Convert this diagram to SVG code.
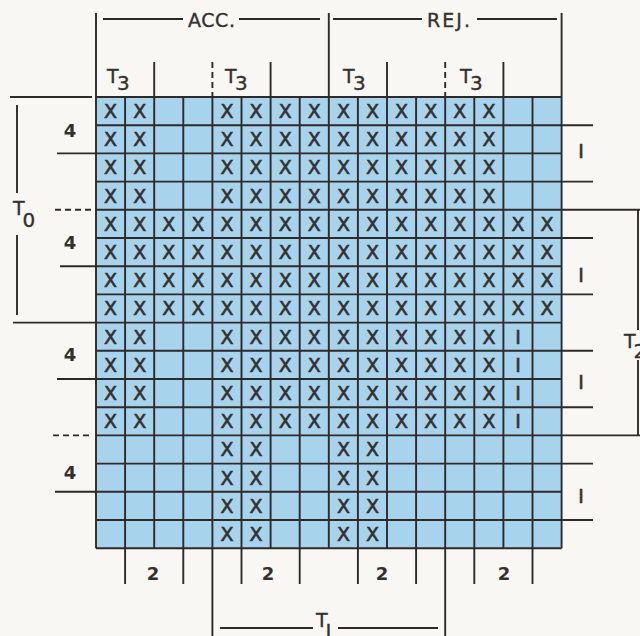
<svg xmlns="http://www.w3.org/2000/svg" width="640" height="636" viewBox="0 0 640 636">
<style>
.ln{stroke:#2e2a28;stroke-width:1.9;fill:none}
.dash{stroke-dasharray:6 4}
.x{font-family:"DejaVu Sans",sans-serif;font-size:19px;fill:#35302e;text-anchor:middle;stroke:#35302e;stroke-width:0.6}
.lb{font-family:"DejaVu Sans",sans-serif;font-size:18px;fill:#35302e;text-anchor:middle;font-weight:bold}
.hd{font-family:"DejaVu Sans",sans-serif;font-size:19px;fill:#35302e;stroke:#35302e;stroke-width:0.35}
.t{font-family:"DejaVu Sans",sans-serif;font-size:19px;fill:#35302e;stroke:#35302e;stroke-width:0.35}
.sub{font-size:20px}
</style>
<rect width="640" height="636" fill="#f8f7f3"/>
<g id="grid">
<rect x="96" y="97" width="465.6" height="451.2" fill="#a8d3ed"/>
<path class="ln" d="M96 97V548.2M125.1 97V548.2M154.2 97V548.2M183.3 97V548.2M212.4 97V548.2M241.5 97V548.2M270.6 97V548.2M299.7 97V548.2M328.8 97V548.2M357.9 97V548.2M387 97V548.2M416.1 97V548.2M445.2 97V548.2M474.3 97V548.2M503.4 97V548.2M532.5 97V548.2M561.6 97V548.2M96 97H561.6M96 125.2H561.6M96 153.4H561.6M96 181.6H561.6M96 209.8H561.6M96 238H561.6M96 266.2H561.6M96 294.4H561.6M96 322.6H561.6M96 350.8H561.6M96 379H561.6M96 407.2H561.6M96 435.4H561.6M96 463.6H561.6M96 491.8H561.6M96 520H561.6M96 548.2H561.6"/>
</g>
<g id="marks">
<g transform="translate(0,118)"><text class="x" x="110.6">X</text><text class="x" x="139.7">X</text><text class="x" x="227">X</text><text class="x" x="256.1">X</text><text class="x" x="285.2">X</text><text class="x" x="314.3">X</text><text class="x" x="343.4">X</text><text class="x" x="372.5">X</text><text class="x" x="401.6">X</text><text class="x" x="430.7">X</text><text class="x" x="459.8">X</text><text class="x" x="488.9">X</text></g>
<g transform="translate(0,146.2)"><text class="x" x="110.6">X</text><text class="x" x="139.7">X</text><text class="x" x="227">X</text><text class="x" x="256.1">X</text><text class="x" x="285.2">X</text><text class="x" x="314.3">X</text><text class="x" x="343.4">X</text><text class="x" x="372.5">X</text><text class="x" x="401.6">X</text><text class="x" x="430.7">X</text><text class="x" x="459.8">X</text><text class="x" x="488.9">X</text></g>
<g transform="translate(0,174.4)"><text class="x" x="110.6">X</text><text class="x" x="139.7">X</text><text class="x" x="227">X</text><text class="x" x="256.1">X</text><text class="x" x="285.2">X</text><text class="x" x="314.3">X</text><text class="x" x="343.4">X</text><text class="x" x="372.5">X</text><text class="x" x="401.6">X</text><text class="x" x="430.7">X</text><text class="x" x="459.8">X</text><text class="x" x="488.9">X</text></g>
<g transform="translate(0,202.6)"><text class="x" x="110.6">X</text><text class="x" x="139.7">X</text><text class="x" x="227">X</text><text class="x" x="256.1">X</text><text class="x" x="285.2">X</text><text class="x" x="314.3">X</text><text class="x" x="343.4">X</text><text class="x" x="372.5">X</text><text class="x" x="401.6">X</text><text class="x" x="430.7">X</text><text class="x" x="459.8">X</text><text class="x" x="488.9">X</text></g>
<g transform="translate(0,230.8)"><text class="x" x="110.6">X</text><text class="x" x="139.7">X</text><text class="x" x="168.8">X</text><text class="x" x="197.9">X</text><text class="x" x="227">X</text><text class="x" x="256.1">X</text><text class="x" x="285.2">X</text><text class="x" x="314.3">X</text><text class="x" x="343.4">X</text><text class="x" x="372.5">X</text><text class="x" x="401.6">X</text><text class="x" x="430.7">X</text><text class="x" x="459.8">X</text><text class="x" x="488.9">X</text><text class="x" x="518">X</text><text class="x" x="547.1">X</text></g>
<g transform="translate(0,259)"><text class="x" x="110.6">X</text><text class="x" x="139.7">X</text><text class="x" x="168.8">X</text><text class="x" x="197.9">X</text><text class="x" x="227">X</text><text class="x" x="256.1">X</text><text class="x" x="285.2">X</text><text class="x" x="314.3">X</text><text class="x" x="343.4">X</text><text class="x" x="372.5">X</text><text class="x" x="401.6">X</text><text class="x" x="430.7">X</text><text class="x" x="459.8">X</text><text class="x" x="488.9">X</text><text class="x" x="518">X</text><text class="x" x="547.1">X</text></g>
<g transform="translate(0,287.2)"><text class="x" x="110.6">X</text><text class="x" x="139.7">X</text><text class="x" x="168.8">X</text><text class="x" x="197.9">X</text><text class="x" x="227">X</text><text class="x" x="256.1">X</text><text class="x" x="285.2">X</text><text class="x" x="314.3">X</text><text class="x" x="343.4">X</text><text class="x" x="372.5">X</text><text class="x" x="401.6">X</text><text class="x" x="430.7">X</text><text class="x" x="459.8">X</text><text class="x" x="488.9">X</text><text class="x" x="518">X</text><text class="x" x="547.1">X</text></g>
<g transform="translate(0,315.4)"><text class="x" x="110.6">X</text><text class="x" x="139.7">X</text><text class="x" x="168.8">X</text><text class="x" x="197.9">X</text><text class="x" x="227">X</text><text class="x" x="256.1">X</text><text class="x" x="285.2">X</text><text class="x" x="314.3">X</text><text class="x" x="343.4">X</text><text class="x" x="372.5">X</text><text class="x" x="401.6">X</text><text class="x" x="430.7">X</text><text class="x" x="459.8">X</text><text class="x" x="488.9">X</text><text class="x" x="518">X</text><text class="x" x="547.1">X</text></g>
<g transform="translate(0,343.6)"><text class="x" x="110.6">X</text><text class="x" x="139.7">X</text><text class="x" x="227">X</text><text class="x" x="256.1">X</text><text class="x" x="285.2">X</text><text class="x" x="314.3">X</text><text class="x" x="343.4">X</text><text class="x" x="372.5">X</text><text class="x" x="401.6">X</text><text class="x" x="430.7">X</text><text class="x" x="459.8">X</text><text class="x" x="488.9">X</text><text class="x" x="518">I</text></g>
<g transform="translate(0,371.8)"><text class="x" x="110.6">X</text><text class="x" x="139.7">X</text><text class="x" x="227">X</text><text class="x" x="256.1">X</text><text class="x" x="285.2">X</text><text class="x" x="314.3">X</text><text class="x" x="343.4">X</text><text class="x" x="372.5">X</text><text class="x" x="401.6">X</text><text class="x" x="430.7">X</text><text class="x" x="459.8">X</text><text class="x" x="488.9">X</text><text class="x" x="518">I</text></g>
<g transform="translate(0,400)"><text class="x" x="110.6">X</text><text class="x" x="139.7">X</text><text class="x" x="227">X</text><text class="x" x="256.1">X</text><text class="x" x="285.2">X</text><text class="x" x="314.3">X</text><text class="x" x="343.4">X</text><text class="x" x="372.5">X</text><text class="x" x="401.6">X</text><text class="x" x="430.7">X</text><text class="x" x="459.8">X</text><text class="x" x="488.9">X</text><text class="x" x="518">I</text></g>
<g transform="translate(0,428.2)"><text class="x" x="110.6">X</text><text class="x" x="139.7">X</text><text class="x" x="227">X</text><text class="x" x="256.1">X</text><text class="x" x="285.2">X</text><text class="x" x="314.3">X</text><text class="x" x="343.4">X</text><text class="x" x="372.5">X</text><text class="x" x="401.6">X</text><text class="x" x="430.7">X</text><text class="x" x="459.8">X</text><text class="x" x="488.9">X</text><text class="x" x="518">I</text></g>
<g transform="translate(0,456.4)"><text class="x" x="227">X</text><text class="x" x="256.1">X</text><text class="x" x="343.4">X</text><text class="x" x="372.5">X</text></g>
<g transform="translate(0,484.6)"><text class="x" x="227">X</text><text class="x" x="256.1">X</text><text class="x" x="343.4">X</text><text class="x" x="372.5">X</text></g>
<g transform="translate(0,512.8)"><text class="x" x="227">X</text><text class="x" x="256.1">X</text><text class="x" x="343.4">X</text><text class="x" x="372.5">X</text></g>
<g transform="translate(0,541)"><text class="x" x="227">X</text><text class="x" x="256.1">X</text><text class="x" x="343.4">X</text><text class="x" x="372.5">X</text></g>
</g>
<g id="connectors">
<path class="ln" d="M96 13V97M328.8 13V97M561.6 13V97M103 19H183M239 19H320M333 19H422M477 19H557M154.2 62V97M270.6 62V97M387 62V97M503.4 62V97"/>
<path class="ln dash" d="M212.4 62V97M445.2 62V97"/>
<path class="ln" d="M10 97H92M17 105V193M17 235V315M57 153.4H96M60 266.2H96M13 322.6H96M57 379H96M55 491.8H96"/>
<path class="ln dash" d="M55 209.8H92M53 435.4H92"/>
<path class="ln" d="M561.6 125.2H593M561.6 181.6H593M561.6 238H593M561.6 294.4H593M561.6 350.8H593M561.6 407.2H593M561.6 463.6H593M561.6 520H593M561.6 209.8H640M561.6 435.4H640M638 209.8V330M638 360V435.4"/>
<path class="ln" d="M125.1 548.2V584M183.3 548.2V584M241.5 548.2V584M299.7 548.2V584M357.9 548.2V584M416.1 548.2V584M474.3 548.2V584M532.5 548.2V584M212.4 548.2V636M445.2 548.2V636M220 628H313M338 628H438"/>
</g>
<g id="labels">
<text class="hd" x="188" y="27" textLength="47" lengthAdjust="spacing">ACC.</text>
<text class="hd" x="427" y="27" textLength="43" lengthAdjust="spacing">REJ.</text>
<text class="t" x="107" y="83">T<tspan class="sub" dx="-1.5" dy="7">3</tspan></text>
<text class="t" x="225" y="83">T<tspan class="sub" dx="-1.5" dy="7">3</tspan></text>
<text class="t" x="343" y="83">T<tspan class="sub" dx="-1.5" dy="7">3</tspan></text>
<text class="t" x="460" y="83">T<tspan class="sub" dx="-1.5" dy="7">3</tspan></text>
<text class="t" x="13" y="215">T<tspan class="sub" dx="-2" dy="12">0</tspan></text>
<text class="t" x="624" y="348">T<tspan class="sub" dx="-2" dy="10">2</tspan></text>
<text class="t" x="316" y="627">T<tspan class="sub" dx="-2" dy="11">I</tspan></text>
<text class="lb" x="70" y="137">4</text>
<text class="lb" x="70" y="248.5">4</text>
<text class="lb" x="70" y="361">4</text>
<text class="lb" x="70" y="478.5">4</text>
<text class="lb" x="153" y="580">2</text>
<text class="lb" x="268" y="580">2</text>
<text class="lb" x="382" y="580">2</text>
<text class="lb" x="504" y="580">2</text>
<text class="x" x="581" y="158">I</text>
<text class="x" x="581" y="281.5">I</text>
<text class="x" x="581" y="388.5">I</text>
<text class="x" x="581" y="502.5">I</text>
</g>
</svg>
